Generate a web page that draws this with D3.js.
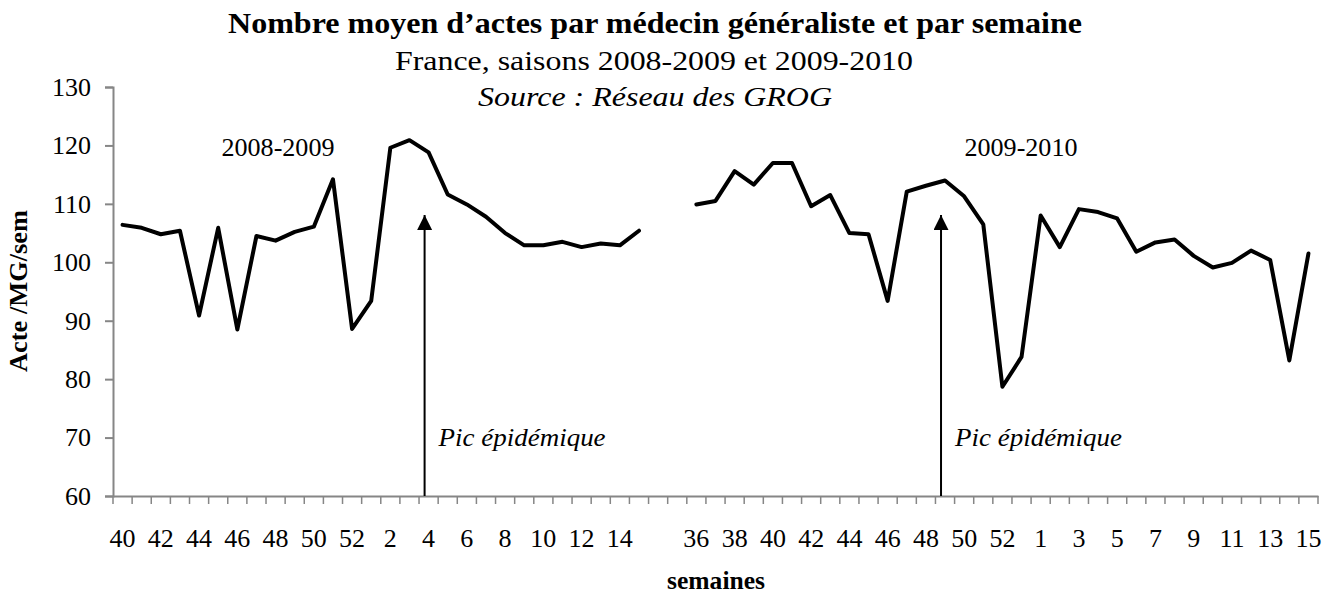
<!DOCTYPE html>
<html>
<head>
<meta charset="utf-8">
<script src="https://cdn.jsdelivr.net/npm/d3@7"></script>
<style>
  html, body { margin: 0; padding: 0; background: #fff; }
  svg { display: block; }
  text { font-family: "Liberation Serif", "Times New Roman", serif; fill: #000; }
</style>
</head>
<body>
<svg id="chart" width="1330" height="595"></svg>
<script>
// ---- data ----
const weeks1 = [40,41,42,43,44,45,46,47,48,49,50,51,52,1,2,3,4,5,6,7,8,9,10,11,12,13,14,15];
const values1 = [106.4,105.9,104.8,105.4,90.9,105.9,88.5,104.5,103.7,105.2,106.1,114.2,88.6,93.4,119.6,120.9,118.8,111.6,109.9,107.8,105.0,102.9,102.9,103.5,102.6,103.2,102.9,105.4];
const gapCategories = ["", ""];
const weeks2 = [36,37,38,39,40,41,42,43,44,45,46,47,48,49,50,51,52,53,1,2,3,4,5,6,7,8,9,10,11,12,13,14,15];
const values2 = [109.9,110.5,115.6,113.3,117.0,117.0,109.6,111.5,105.0,104.8,93.4,112.1,113.1,114.0,111.3,106.5,78.7,83.8,108.0,102.6,109.1,108.6,107.5,101.8,103.4,103.9,101.1,99.1,99.9,102.0,100.4,83.2,101.5];
const yTicks = [60,70,80,90,100,110,120,130];
const seasonLabels = ["2008-2009", "2009-2010"];
const peakWeeks = [{season: 1, week: 4}, {season: 2, week: 49}];
const peakLabel = "Pic épidémique";

const titleText = "Nombre moyen d’actes par médecin généraliste et par semaine";
const subtitleText = "France, saisons 2008-2009 et 2009-2010";
const sourceText = "Source : Réseau des GROG";
const yTitle = "Acte /MG/sem";
const xTitle = "semaines";

// ---- categories ----
const cats = [];
weeks1.forEach((w, i) => cats.push({id: "s1-" + i, label: String(w), season: 1, week: w}));
gapCategories.forEach((g, i) => cats.push({id: "g-" + i, label: g, season: 0, week: null}));
weeks2.forEach((w, i) => cats.push({id: "s2-" + i, label: String(w), season: 2, week: w}));

const svg = d3.select("#chart");
const plotLeft = 113, plotRight = 1318, plotTop = 87, plotBottom = 496;

const x = d3.scaleBand().domain(cats.map(c => c.id)).range([plotLeft, plotRight]).paddingInner(0).paddingOuter(0);
const y = d3.scaleLinear().domain([60, 130]).range([plotBottom, plotTop]);
const bw = x.bandwidth();
const axisColor = "#868686";
const fs = 25;

function txt(xp, yp, s, size, opts) {
  const t = svg.append("text").attr("x", xp).attr("y", yp).attr("font-size", size).text(s);
  if (opts.anchor) t.attr("text-anchor", opts.anchor);
  if (opts.bold) t.attr("font-weight", "bold");
  if (opts.italic) t.attr("font-style", "italic");
  if (opts.len) t.attr("textLength", opts.len).attr("lengthAdjust", "spacingAndGlyphs");
  if (opts.transform) t.attr("transform", opts.transform);
  return t;
}

// ---- titles ----
txt(655, 33, titleText, 29, {anchor: "middle", bold: true, len: 854});
txt(654, 70, subtitleText, 28, {anchor: "middle", len: 518});
txt(655, 106, sourceText, 27, {anchor: "middle", italic: true, len: 354});

// ---- y axis ----
const yAxis = d3.axisLeft(y).tickValues(yTicks).tickSize(8).tickPadding(14).tickFormat(d3.format("d"));
const gy = svg.append("g").attr("transform", `translate(${plotLeft},0)`).call(yAxis);
gy.select(".domain").attr("stroke", axisColor).attr("stroke-width", 2);
gy.selectAll(".tick line").attr("stroke", axisColor).attr("stroke-width", 2);
gy.selectAll(".tick text").attr("font-size", 26).attr("font-family", "Liberation Serif, serif").attr("fill", "#000");

// ---- x axis ----
const xAxis = d3.axisBottom(x).tickSize(0).tickPadding(33)
  .tickFormat((d, i) => (i % 2 === 0 ? cats[i].label : ""));
const gx = svg.append("g").attr("transform", `translate(0,${plotBottom})`).call(xAxis);
gx.select(".domain").attr("stroke", axisColor).attr("stroke-width", 2);
gx.selectAll(".tick text").attr("font-size", 26).attr("font-family", "Liberation Serif, serif").attr("fill", "#000");

// boundary tick marks
const bounds = cats.map(c => x(c.id)).concat([x(cats[cats.length - 1].id) + bw]);
svg.append("g").selectAll("line").data(bounds).join("line")
  .attr("x1", d => d).attr("x2", d => d)
  .attr("y1", plotBottom).attr("y2", plotBottom + 8)
  .attr("stroke", axisColor).attr("stroke-width", 1.5);

// axis titles
txt(716, 589, xTitle, 25, {anchor: "middle", bold: true, len: 98});
txt(0, 0, yTitle, 25, {anchor: "middle", bold: true, len: 162, transform: "translate(27,291) rotate(-90)"});

// ---- lines ----
const line = d3.line().x(d => x(d.id) + bw / 2).y(d => y(d.v)).curve(d3.curveLinear);
const s1 = values1.map((v, i) => ({id: "s1-" + i, v}));
const s2 = values2.map((v, i) => ({id: "s2-" + i, v}));
[s1, s2].forEach(s => {
  svg.append("path").datum(s).attr("d", line)
    .attr("fill", "none").attr("stroke", "#000").attr("stroke-width", 4)
    .attr("stroke-linejoin", "round").attr("stroke-linecap", "round");
});

// season labels
txt(278, 156, seasonLabels[0], 26, {anchor: "middle", len: 113});
txt(1021, 156, seasonLabels[1], 26, {anchor: "middle", len: 113});

// ---- peak arrows ----
svg.append("defs").append("marker").attr("id", "arrow")
  .attr("viewBox", "0 0 10 10").attr("refX", 10).attr("refY", 5)
  .attr("markerUnits", "userSpaceOnUse").attr("markerWidth", 16).attr("markerHeight", 15)
  .attr("orient", "auto")
  .append("path").attr("d", "M0,0 L10,5 L0,10 Z").attr("fill", "#000");

peakWeeks.forEach(p => {
  const idx = (p.season === 1 ? weeks1 : weeks2).indexOf(p.week);
  const cx = x("s" + p.season + "-" + idx) + bw / 2 - 4;
  svg.append("line").attr("x1", cx).attr("x2", cx).attr("y1", plotBottom).attr("y2", 215)
    .attr("stroke", "#000").attr("stroke-width", 2).attr("marker-end", "url(#arrow)");
  txt(cx + 14, 446, peakLabel, 26, {italic: true, len: 167});
});
</script>
</body>
</html>
